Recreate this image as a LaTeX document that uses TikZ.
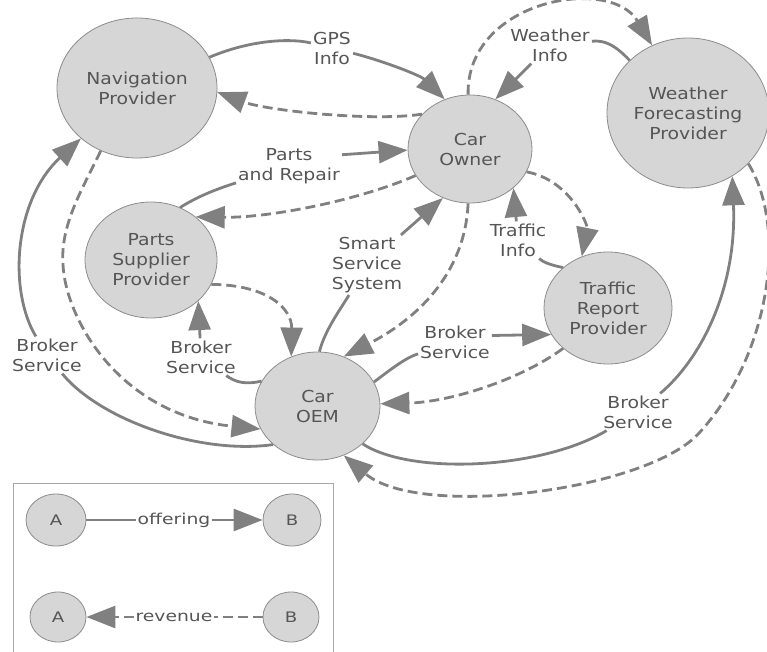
\documentclass[tikz,border=0pt]{standalone}
\usepackage{fontspec}
\setmainfont{DejaVu Sans}[FakeStretch=1.14]
\newfontfamily\legendfont{DejaVu Sans}[FakeStretch=1.25]
\usetikzlibrary{arrows.meta,shapes.geometric}
\definecolor{entfill}{HTML}{D6D6D6}
\definecolor{entline}{HTML}{8C8C8C}
\definecolor{wire}{HTML}{808080}
\definecolor{ink}{HTML}{555555}
\definecolor{frame}{HTML}{A8A8A8}

\begin{document}
\begin{tikzpicture}[x=1pt,y=-1pt,
  ent/.style={ellipse, draw=entline, line width=0.8pt, fill=entfill, inner sep=0pt,
    align=center, text=ink, font=\fontsize{16.5}{20}\selectfont},
  mini/.style={ellipse, draw=entline, line width=0.8pt, fill=entfill, inner sep=0pt,
    text=ink, font=\legendfont\fontsize{14.5}{17}\selectfont},
  lbl/.style={fill=white, inner sep=2pt, align=center, text=ink,
    font=\fontsize{16.5}{20}\selectfont},
  leglbl/.style={inner sep=1pt, text=ink, font=\legendfont\fontsize{15}{17}\selectfont},
  wirebase/.style={draw=wire, line width=2.8pt},
  tip/.style={-{Triangle[length=29pt,width=22pt]}},
  offer/.style={wirebase},
  offertip/.style={wirebase, tip},
  paybare/.style={wirebase, dash pattern=on 10pt off 5pt},
  pay/.style={wirebase, dash pattern=on 10pt off 5pt, tip},
  legbox/.style={draw=frame, line width=0.8pt}
]
\useasboundingbox (0,0) rectangle (767,652);

% actors
\node[ent, minimum width=160pt, minimum height=140pt] (nav) at (137,88) {Navigation\\Provider};
\node[ent, minimum width=124pt, minimum height=108pt] (own) at (470,149) {Car\\Owner};
\node[ent, minimum width=162pt, minimum height=150pt] (wea) at (688,113) {Weather\\Forecasting\\Provider};
\node[ent, minimum width=132pt, minimum height=116pt] (par) at (151,260) {Parts\\Supplier\\Provider};
\node[ent, minimum width=125pt, minimum height=108pt] (oem) at (317.5,406) {Car\\OEM};
\node[ent, minimum width=128pt, minimum height=112pt] (tra) at (608,308) {Traffic\\Report\\Provider};

% offering labels
\node[lbl] (gps) at (332,48) {GPS\\Info};
\node[lbl] (pr) at (289,166) {Parts\\and Repair};
\node[lbl] (wi) at (550,45) {Weather\\Info};
\node[lbl] (sss) at (367,265) {Smart\\Service\\System};
\node[lbl] (ti) at (518,240) {Traffic\\Info};
\node[lbl] (bs1) at (201,357) {Broker\\Service};
\node[lbl] (bs2) at (455,342) {Broker\\Service};
\node[lbl] (bs3) at (638,412) {Broker\\Service};
\node[lbl] (bs4) at (47,355) {Broker\\Service};

% GPS info
\draw[offer] (nav.23) .. controls (250,40) and (290,38) .. (gps);
\draw[offertip] (gps) .. controls (380,60) and (420,75) .. (own.117);
\draw[pay] (own.144) .. controls (370,122) and (265,110) .. (nav.-3);

% parts and repair
\draw[offer] (par.61) .. controls (200,195) and (220,188) .. (pr);
\draw[offertip] (pr.12) -- (own.181);
\draw[pay] (own.206) .. controls (360,200) and (270,218) .. (par.44);

% weather info
\draw[pay] (own.92) .. controls (466,0) and (610,-25) .. (wea.118);
\draw[offer] (wea.138) .. controls (615,45) and (605,40) .. (wi);
\draw[offertip] (wi) -- (own.63);

% parts supplier and OEM
\draw[pay] (par.-22) .. controls (270,285) and (292,310) .. (oem.118);
\draw[offer] (oem.156) .. controls (245,385) and (235,382) .. (bs1);
\draw[offertip] (bs1) -- (par.-41);

% smart service system
\draw[offer] (oem.88) .. controls (325,330) and (340,310) .. (sss);
\draw[offertip] (sss) -- (own.241);
\draw[pay] (own.268) .. controls (465,275) and (415,320) .. (oem.62);

% traffic info
\draw[pay] (own.-22) .. controls (570,180) and (588,225) .. (tra.117);
\draw[offer] (tra.138) .. controls (550,265) and (543,262) .. (ti);
\draw[offertip] (ti) -- (own.-42);

% OEM and traffic provider
\draw[offer] (oem.23) .. controls (390,370) and (405,358) .. (bs2);
\draw[offertip] (bs2.10) -- (tra.205);
\draw[pay] (tra.222) .. controls (520,380) and (450,402) .. (oem.2);

% OEM and weather provider
\draw[offer] (oem.-40) .. controls (410,475) and (540,470) .. (bs3);
\draw[offertip] (bs3) .. controls (700,360) and (737,290) .. (wea.-55);
\draw[pay] (wea.-40) .. controls (788,228) and (770,355) .. (700,432)
  .. controls (650,490) and (420,520) .. (oem.-62);

% OEM and navigation provider
\draw[offer] (oem.221) .. controls (200,455) and (100,420) .. (bs4);
\draw[offertip] (bs4) .. controls (8,290) and (14,200) .. (nav.222);
\draw[pay] (nav.240) .. controls (82,190) and (60,225) .. (63,265)
  .. controls (66,320) and (120,415) .. (oem.202);

% legend
\draw[legbox] (13,660) -- (13,483) -- (333,483) -- (333,660);
\node[mini, minimum width=60pt, minimum height=52pt] (la1) at (56,520) {A};
\node[mini, minimum width=58pt, minimum height=52pt] (lb1) at (292,520) {B};
\node[mini, minimum width=56pt, minimum height=50pt] (la2) at (58,617) {A};
\node[mini, minimum width=56pt, minimum height=50pt] (lb2) at (291,617) {B};
\node[leglbl] (off) at (174,520) {offering};
\node[leglbl] (rev) at (174,617) {revenue};
\draw[offer] (la1) -- (off);
\draw[offertip] (off) -- (lb1);
\draw[paybare] (lb2) -- (rev);
\draw[pay] (rev) -- (la2);
\end{tikzpicture}
\end{document}
